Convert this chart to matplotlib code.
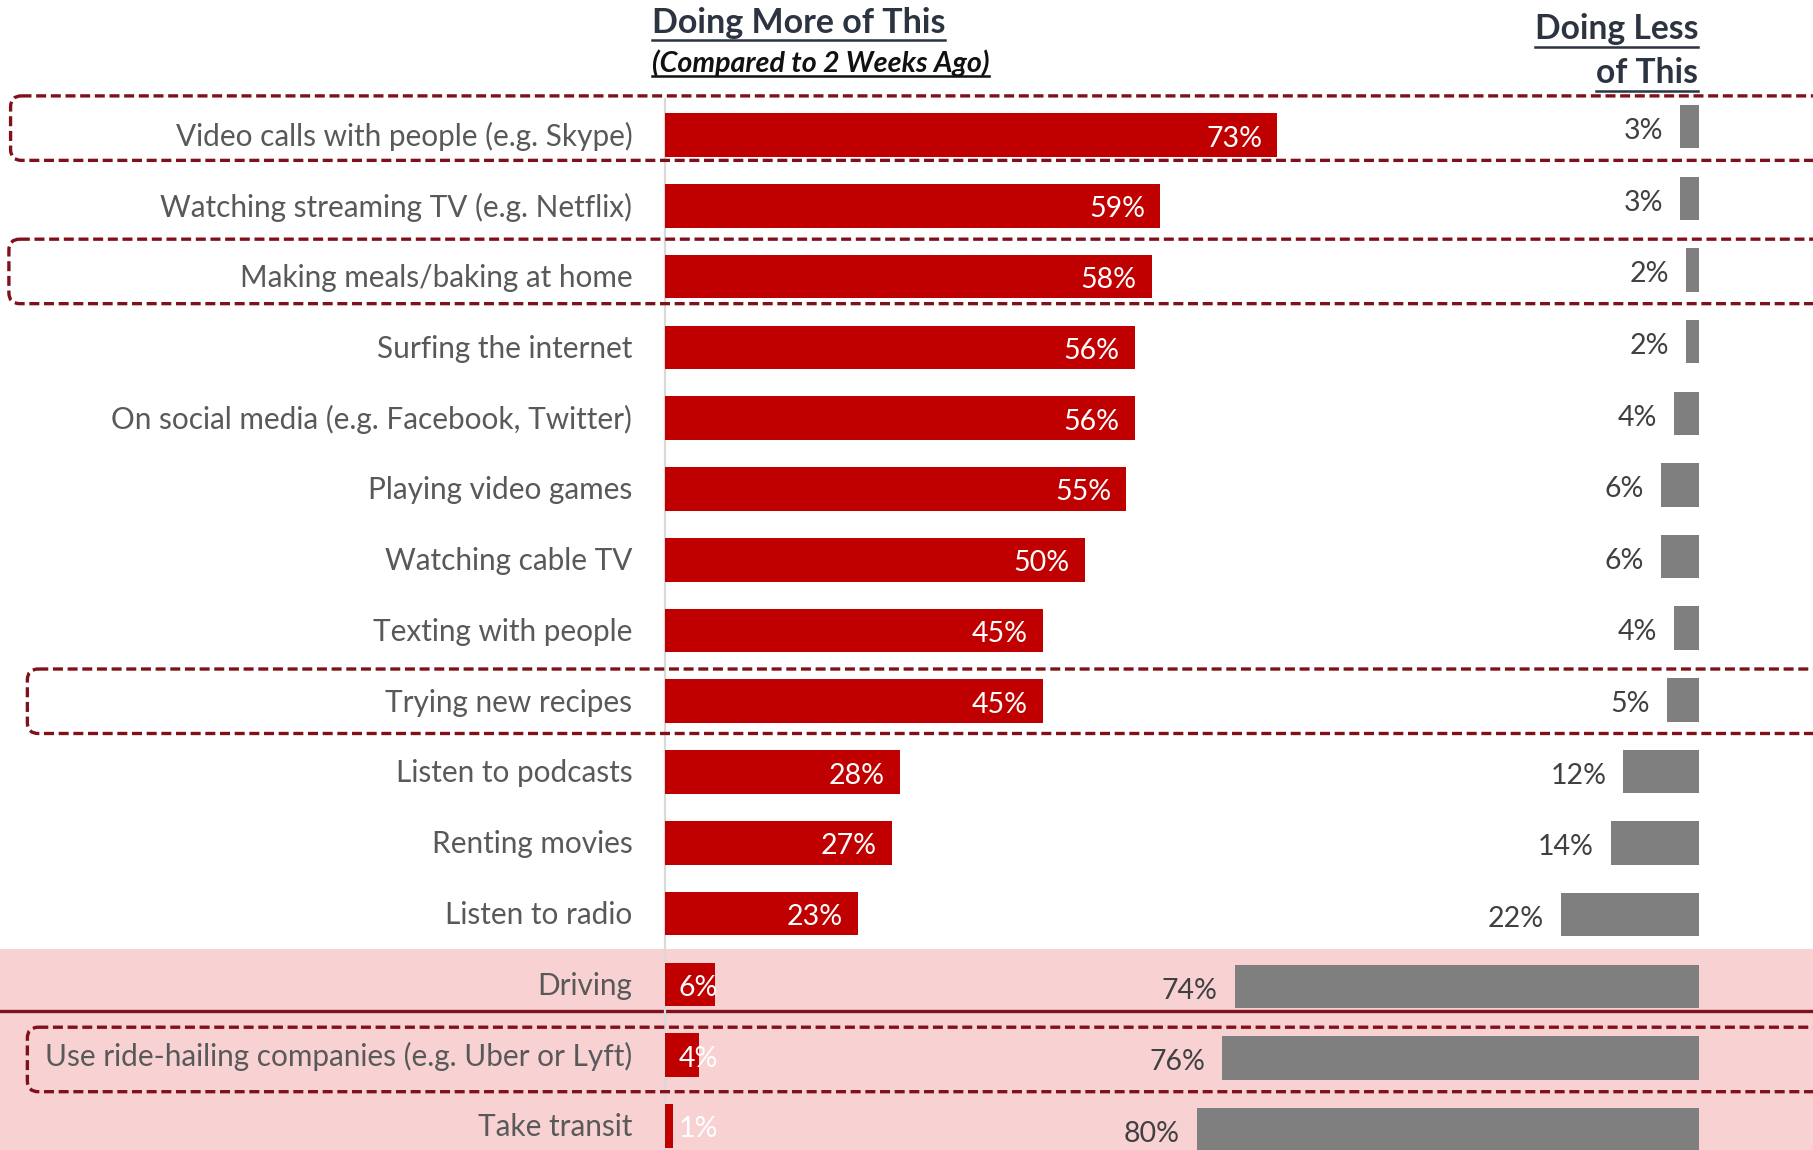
import matplotlib.pyplot as plt
from matplotlib.patches import FancyBboxPatch
from matplotlib.transforms import blended_transform_factory

plt.rcParams['font.family'] = ['Lato', 'DejaVu Sans']

activities = [
    "Video calls with people (e.g. Skype)",
    "Watching streaming TV (e.g. Netflix)",
    "Making meals/baking at home",
    "Surfing the internet",
    "On social media (e.g. Facebook, Twitter)",
    "Playing video games",
    "Watching cable TV",
    "Texting with people",
    "Trying new recipes",
    "Listen to podcasts",
    "Renting movies",
    "Listen to radio",
    "Driving",
    "Use ride-hailing companies (e.g. Uber or Lyft)",
    "Take transit",
]
more_pct = [73, 59, 58, 56, 56, 55, 50, 45, 45, 28, 27, 23, 6, 4, 1]
less_pct = [3, 3, 2, 2, 4, 6, 6, 4, 5, 12, 14, 22, 74, 76, 80]
boxed_rows = [0, 2, 8, 13]
box_left = [-78.0, -78.2, -76.0, -76.0]
transport_rows = [12, 13, 14]

RED = "#C00000"
GREY = "#7F7F7F"
DARKRED = "#80101A"
PINK = "#F8D1D3"

W, H = 1813, 1150
fig = plt.figure(figsize=(W / 100, H / 100), dpi=100)

rows = list(range(len(activities)))

# left panel: "doing more", zero at x=665px, 8.39 px per percent
ax = fig.add_axes([0, 0, 1, 1], label="more")
ax.set_xlim(-665 / 8.39, (W - 665) / 8.39)
ax.set_ylim((H - 135.1) / 70.77, -135.1 / 70.77)
ax.axis("off")

# right panel: "doing less", bars grow leftwards from x=1698px
ax_r = fig.add_axes([0, 0, 1, 1], label="less")
ax_r.set_xlim(1698.6 / 6.27, -(W - 1698.6) / 6.27)
ax_r.set_ylim((H - 126.7) / 71.64, -126.7 / 71.64)
ax_r.axis("off")
ax_r.patch.set_visible(False)

# shaded transport block and divider under "Driving"
ax.axhspan(min(transport_rows) - 0.5, max(transport_rows) + 1, color=PINK,
           lw=0, zorder=0)
ax.axhline(12.372, color=DARKRED, lw=2.4, zorder=1)
ax.vlines(0, -0.53, 15, color="#D9D9D9", lw=1.6, zorder=1)

ax.barh(rows, more_pct, height=0.617, color=RED, zorder=2)
for r, v in zip(rows, more_pct):
    ax.text(max(v - 1.8, 6.3), r + 0.05, f"{v}%", ha="right", va="center",
            color="white", fontsize=20.5, zorder=3)
for r, name in zip(rows, activities):
    ax.text(-3.9, r + 0.02, name, ha="right", va="center", color="#595959",
            fontsize=21.4, zorder=3)

ax_r.barh(rows, less_pct, height=0.607, color=GREY, zorder=2)
for r, v in zip(rows, less_pct):
    ax_r.text(v + 2.7, r + 0.06, f"{v}%", ha="right", va="center",
              color="#404040", fontsize=20.5, zorder=3)

# dashed highlight boxes (x in left units, y in right rows)
trans = blended_transform_factory(ax.transData, ax_r.transData)
for r, x0 in zip(boxed_rows, box_left):
    box = FancyBboxPatch((x0, r - 0.43), 260, 0.9,
                         boxstyle="round,pad=0,rounding_size=1.3",
                         mutation_aspect=8.39 / 71.64, transform=trans,
                         fill=False, edgecolor=DARKRED, lw=2.4,
                         linestyle=(0, (3, 1.4)), zorder=4, clip_on=False)
    ax.add_patch(box)

# column headers with underlines
heads = [
    fig.text(651.7 / W, 1 - 33.3 / H, "Doing More of This", ha="left",
             va="baseline", fontsize=24.5, fontweight="bold", color="#2B3440"),
    fig.text(651.7 / W, 1 - 71.7 / H, "(Compared to 2 Weeks Ago)", ha="left",
             va="baseline", fontsize=20.6, fontweight="bold", style="italic",
             color="#111111"),
    fig.text(1698.3 / W, 1 - 39.3 / H, "Doing Less", ha="right",
             va="baseline", fontsize=24.2, fontweight="bold", color="#2B3440"),
    fig.text(1698.3 / W, 1 - 83.3 / H, "of This", ha="right",
             va="baseline", fontsize=24.2, fontweight="bold", color="#2B3440"),
]
under_gap = [6.7, 4.5, 7.4, 7.7]
renderer = fig.canvas.get_renderer()
for t, gap in zip(heads, under_gap):
    bb = t.get_window_extent(renderer)
    y = t.get_position()[1] - gap / H
    fig.add_artist(plt.Line2D([bb.x0 / W, bb.x1 / W], [y, y],
                              transform=fig.transFigure, lw=1.8,
                              color=t.get_color()))

fig.savefig("out.png", dpi=100)
